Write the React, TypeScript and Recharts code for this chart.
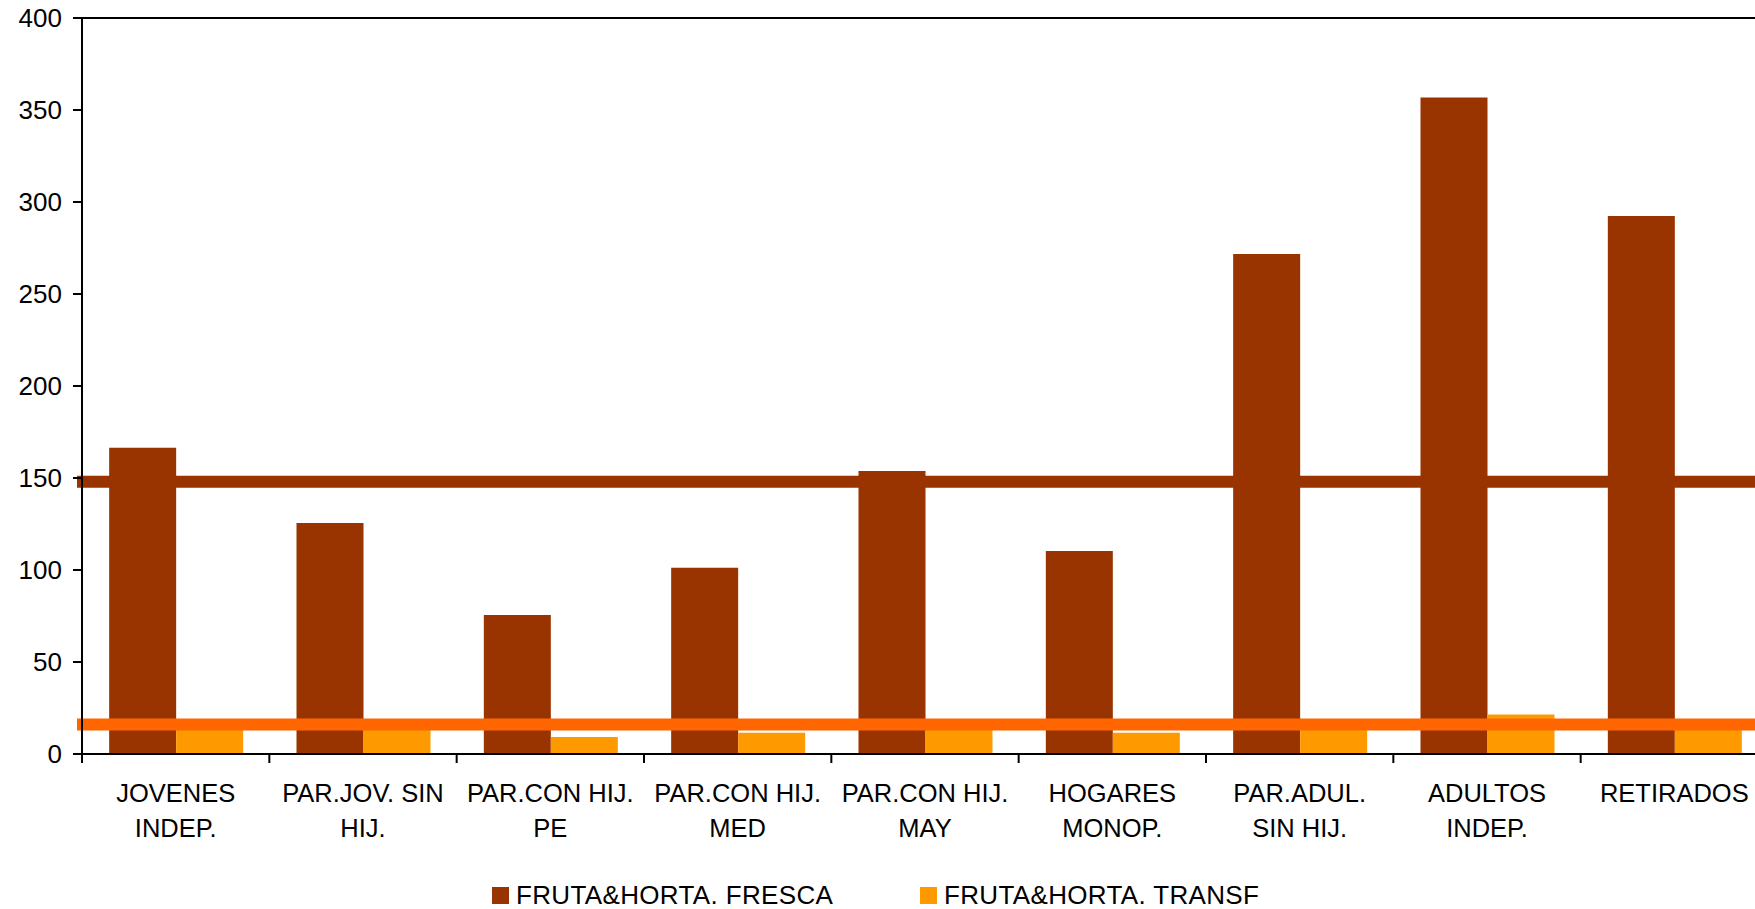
import React from "react";
import { BarChart, Bar, XAxis, YAxis, ReferenceLine, Legend } from "recharts";

const categories = [
  "JOVENES\nINDEP.",
  "PAR.JOV. SIN\nHIJ.",
  "PAR.CON HIJ.\nPE",
  "PAR.CON HIJ.\nMED",
  "PAR.CON HIJ.\nMAY",
  "HOGARES\nMONOP.",
  "PAR.ADUL.\nSIN HIJ.",
  "ADULTOS\nINDEP.",
  "RETIRADOS",
];
const fresca = [166.5, 125.6, 75.6, 101.2, 153.8, 110.3, 271.7, 356.8, 292.4];
const transf = [15, 15, 9.3, 11.5, 16, 11.5, 16, 21.5, 17];
const frescaAvg = 148;
const transfAvg = 16;
const yTicks = [0, 50, 100, 150, 200, 250, 300, 350, 400];
const seriesNames = ["FRUTA&HORTA. FRESCA", "FRUTA&HORTA. TRANSF"];

const BROWN = "#993300";
const ORANGE = "#FF9900";
const LINE_ORANGE = "#FF6600";
const FONT = "'Liberation Sans', Arial, sans-serif";

const data = categories.map((c, i) => ({ name: c, fresca: fresca[i], transf: transf[i] }));

// category label + tick marks on the category boundaries (Excel style)
function CategoryTick(props: any) {
  const { x, y, payload, index, visibleTicksCount } = props;
  const half = payload.offset ?? 93.65;
  const lines = String(payload.value).split("\n");
  const last = index === (visibleTicksCount ?? categories.length) - 1;
  return (
    <g>
      <line x1={x - half} y1={y} x2={x - half} y2={y + 9} stroke="#000" strokeWidth={2} />
      {last && <line x1={x + half} y1={y} x2={x + half} y2={y + 9} stroke="#000" strokeWidth={2} />}
      <text x={x} y={y + 48} textAnchor="middle" fontSize={25.5} fontFamily={FONT} fill="#000">
        {lines.map((l, i) => (
          <tspan key={i} x={x} dy={i === 0 ? 0 : 34.5}>
            {l}
          </tspan>
        ))}
      </text>
    </g>
  );
}

function avgLine(color: string) {
  return (p: any) => (
    <line x1={p.x1 - 5} y1={p.y1} x2={p.x2} y2={p.y2} stroke={color} strokeWidth={12} />
  );
}

function LegendContent() {
  const colors = [BROWN, ORANGE];
  return (
    <div style={{ display: "flex", paddingLeft: 492, fontFamily: FONT, fontSize: 26, height: 30, alignItems: "center", letterSpacing: 0.35 }}>
      {seriesNames.map((n, i) => (
        <div key={n} style={{ display: "flex", alignItems: "center", width: i === 0 ? 428 : undefined }}>
          <span style={{ display: "inline-block", width: 17, height: 17, background: colors[i], marginRight: 7 }} />
          <span style={{ lineHeight: "30px" }}>{n}</span>
        </div>
      ))}
    </div>
  );
}

export default function App() {
  return (
    <div style={{ position: "fixed", left: 0, top: 0, width: 1755, height: 909, overflow: "hidden", background: "#fff" }}>
      <BarChart
        width={1780}
        height={909}
        data={data}
        margin={{ top: 18, right: 12, left: 0, bottom: 55 }}
        barCategoryGap="14.5%"
        barGap={0}
      >
        <XAxis
          dataKey="name"
          height={100}
          interval={0}
          tickLine={false}
          tickSize={0}
          tickMargin={0}
          axisLine={{ stroke: "#000", strokeWidth: 2 }}
          tick={<CategoryTick />}
        />
        <YAxis
          domain={[0, 400]}
          ticks={yTicks}
          width={82}
          tickSize={9}
          tickMargin={11}
          axisLine={{ stroke: "#000", strokeWidth: 2 }}
          tickLine={{ stroke: "#000", strokeWidth: 2 }}
          tick={{ fill: "#000", fontSize: 26, fontFamily: FONT }}
          interval={0}
        />
        <Bar dataKey="fresca" name={seriesNames[0]} fill={BROWN} isAnimationActive={false} />
        <Bar dataKey="transf" name={seriesNames[1]} fill={ORANGE} isAnimationActive={false} />
        <ReferenceLine y={400} stroke="#000" strokeWidth={2} />
        <ReferenceLine y={frescaAvg} shape={avgLine(BROWN)} />
        <ReferenceLine y={transfAvg} shape={avgLine(LINE_ORANGE)} />
        <Legend
          layout="horizontal"
          verticalAlign="middle"
          align="center"
          content={<LegendContent />}
          wrapperStyle={{ left: 0, top: 880, width: 1755 }}
        />
      </BarChart>
    </div>
  );
}
